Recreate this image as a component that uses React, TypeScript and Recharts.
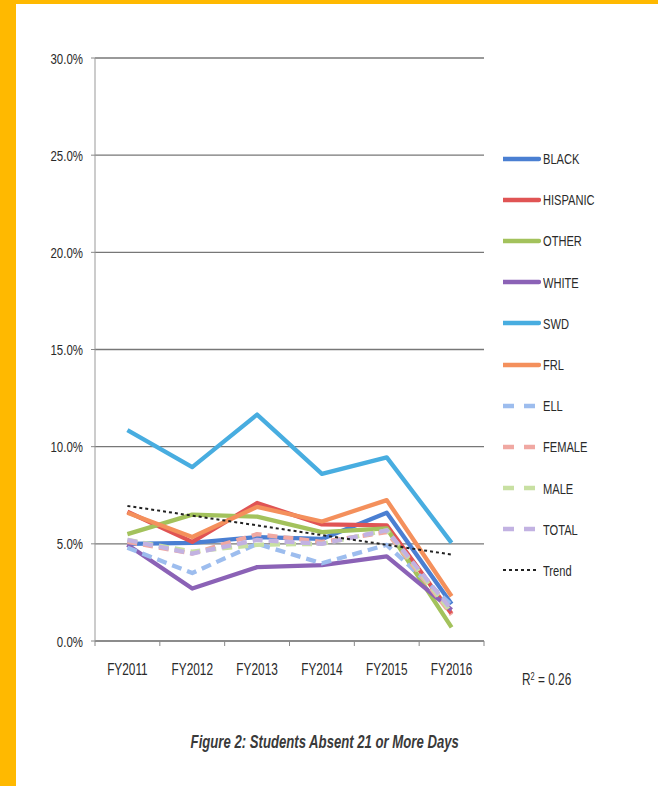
import React from "react";
import { LineChart, Line, XAxis, YAxis, CartesianGrid } from "recharts";

const categories = ["FY2011", "FY2012", "FY2013", "FY2014", "FY2015", "FY2016"];

const black = [5.0, 5.05, 5.35, 5.25, 6.6, 1.9];
const hispanic = [6.65, 5.1, 7.1, 6.0, 5.95, 1.4];
const other = [5.5, 6.5, 6.4, 5.6, 5.8, 0.7];
const white = [4.95, 2.7, 3.8, 3.9, 4.35, 1.6];
const swd = [10.85, 8.95, 11.65, 8.6, 9.45, 5.05];
const frl = [6.6, 5.35, 6.9, 6.15, 7.25, 2.3];
const ell = [4.8, 3.5, 5.0, 4.0, 4.95, 1.85];
const female = [5.1, 4.5, 5.5, 5.1, 5.6, 1.35];
const male = [5.2, 4.6, 4.95, 5.0, 5.7, 1.45];
const total = [5.2, 4.5, 5.2, 5.0, 5.7, 1.6];
const trend = [6.95, null, null, null, null, 4.45];

const yTicks = [0, 5, 10, 15, 20, 25, 30];
const rSquared = "0.26";
const caption = "Figure 2: Students Absent 21 or More Days";

const seriesNames = ["BLACK", "HISPANIC", "OTHER", "WHITE", "SWD", "FRL", "ELL", "FEMALE", "MALE", "TOTAL", "Trend"];
const seriesValues = [black, hispanic, other, white, swd, frl, ell, female, male, total, trend];

// stroke styles per series
const styles: Record<string, { color: string; width: number; dash?: string; legendDash?: string }> = {
  BLACK: { color: "#4a7fd2", width: 4.3 },
  HISPANIC: { color: "#e05454", width: 4.3 },
  OTHER: { color: "#a3c25c", width: 4.3 },
  WHITE: { color: "#8b62b6", width: 4.3 },
  SWD: { color: "#48ade0", width: 4.3 },
  FRL: { color: "#f4905c", width: 4.3 },
  ELL: { color: "#9dbdee", width: 4.3, dash: "10 6", legendDash: "11 10" },
  FEMALE: { color: "#f0a8a2", width: 4.3, dash: "10 6", legendDash: "11 10" },
  MALE: { color: "#c8e0a2", width: 4.3, dash: "10 6", legendDash: "11 10" },
  TOTAL: { color: "#c2b2e2", width: 4.3, dash: "10 6", legendDash: "11 10" },
  Trend: { color: "#222222", width: 2, dash: "3 3", legendDash: "3 3" },
};

const data = categories.map((c, i) => {
  const row: Record<string, string | number | null> = { name: c };
  seriesNames.forEach((s, k) => {
    row[s] = seriesValues[k][i];
  });
  return row;
});

// no narrow font installed, so squeeze Liberation Sans
const FONT = '"Liberation Sans", Arial, sans-serif';
const NARROW = 0.74;

const XTick = (props: any) => {
  const { x, y, payload, index, visibleTicksCount } = props;
  const off = payload.offset || 0;
  return (
    <g>
      <line x1={x - off} x2={x - off} y1={y} y2={y + 5} stroke="#888" />
      {index === visibleTicksCount - 1 && (
        <line x1={x + off} x2={x + off} y1={y} y2={y + 5} stroke="#888" />
      )}
      <text
        transform={`translate(${x},${y + 34}) scale(${NARROW},1)`}
        textAnchor="middle"
        fontSize={16}
        fill="#2a2a2a"
        fontFamily={FONT}
      >
        {payload.value}
      </text>
    </g>
  );
};

const YTick = (props: any) => {
  const { x, y, payload } = props;
  return (
    <text
      transform={`translate(${x},${y + 5.5}) scale(${NARROW},1)`}
      textAnchor="end"
      fontSize={15.5}
      fill="#2a2a2a"
      fontFamily={FONT}
    >
      {Number(payload.value).toFixed(1) + "%"}
    </text>
  );
};

const Narrow = ({ children, origin = "left" }: { children: React.ReactNode; origin?: string }) => (
  <span style={{ display: "inline-block", transform: `scaleX(${NARROW})`, transformOrigin: origin, whiteSpace: "nowrap" }}>
    {children}
  </span>
);

const LegendBox = () => (
  <div style={{ position: "absolute", left: 503, top: 138, fontFamily: FONT, fontSize: 15, color: "#2a2a2a" }}>
    {seriesNames.map((s) => {
      const st = styles[s];
      return (
        <div key={s} style={{ height: 41.2, display: "flex", alignItems: "center" }}>
          <svg width={38} height={10}>
            <line
              x1={0}
              x2={36}
              y1={5}
              y2={5}
              stroke={st.color}
              strokeWidth={st.width}
              strokeDasharray={st.legendDash}
              strokeLinecap={st.dash ? "butt" : "round"}
            />
          </svg>
          <span style={{ marginLeft: 2 }}>
            <Narrow>{s}</Narrow>
          </span>
        </div>
      );
    })}
  </div>
);

export default function App() {
  return (
    <div
      style={{
        position: "absolute",
        left: 0,
        top: 0,
        width: 658,
        height: 786,
        background: "#fff",
        overflow: "hidden",
      }}
    >
      <div style={{ position: "absolute", left: 0, top: 0, width: 16, height: 786, background: "#ffb900" }} />
      <div style={{ position: "absolute", left: 0, top: 0, width: 658, height: 4, background: "#ffb900" }} />
      <LineChart
        width={658}
        height={786}
        data={data}
        margin={{ top: 58, right: 174, bottom: 115, left: 0 }}
        style={{ position: "absolute", left: 0, top: 0 }}
      >
        <CartesianGrid vertical={false} stroke="#777" strokeWidth={1.4} />
        <XAxis
          dataKey="name"
          scale="band"
          height={30}
          axisLine={{ stroke: "#888", strokeWidth: 1.4 }}
          tickLine={false}
          tickSize={0}
          tickMargin={0}
          tick={<XTick />}
          interval={0}
        />
        <YAxis
          width={95}
          domain={[0, 30]}
          ticks={yTicks}
          interval={0}
          axisLine={{ stroke: "#999" }}
          tickLine={{ stroke: "#888" }}
          tickSize={4}
          tickMargin={8}
          tick={<YTick />}
        />
        {seriesNames.map((s) => {
          const st = styles[s];
          return (
            <Line
              key={s}
              dataKey={s}
              stroke={st.color}
              strokeWidth={st.width}
              strokeDasharray={st.dash}
              strokeLinejoin="round"
              dot={false}
              activeDot={false}
              connectNulls={s === "Trend"}
              isAnimationActive={false}
            />
          );
        })}
      </LineChart>
      <LegendBox />
      <div
        style={{
          position: "absolute",
          left: 522,
          top: 671,
          fontFamily: FONT,
          fontSize: 16,
          color: "#2a2a2a",
        }}
      >
        <Narrow>
          R<sup style={{ fontSize: 10, verticalAlign: "top", lineHeight: "12px" }}>2</sup> = {rSquared}
        </Narrow>
      </div>
      <div
        style={{
          position: "absolute",
          left: 0,
          width: 650,
          top: 732,
          textAlign: "center",
          fontFamily: FONT,
          fontSize: 18,
          fontWeight: "bold",
          fontStyle: "italic",
          color: "#3a3a3a",
        }}
      >
        <span style={{ display: "inline-block", transform: "scaleX(0.73)", transformOrigin: "center", whiteSpace: "nowrap" }}>
          {caption}
        </span>
      </div>
    </div>
  );
}
